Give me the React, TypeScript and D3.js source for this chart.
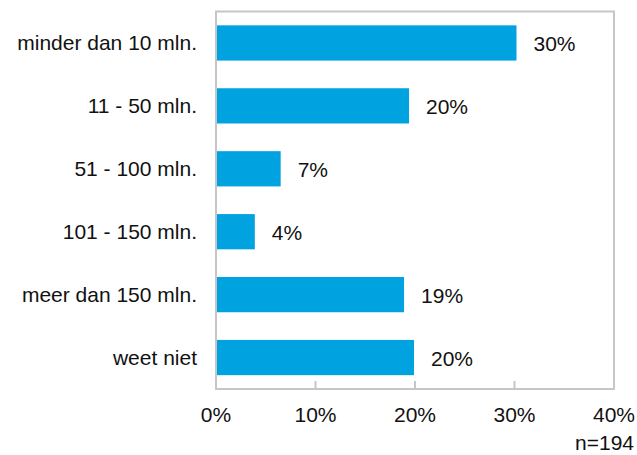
import React from "react";
import * as d3 from "d3";

const categories = [
  "minder dan 10 mln.",
  "11 - 50 mln.",
  "51 - 100 mln.",
  "101 - 150 mln.",
  "meer dan 150 mln.",
  "weet niet",
];
const values = [0.302, 0.194, 0.065, 0.039, 0.189, 0.199];
const valueLabels = ["30%", "20%", "7%", "4%", "19%", "20%"];
const xTicks = [0, 0.1, 0.2, 0.3, 0.4];
const note = "n=194";

const W = 637;
const H = 455;
const left = 216;
const right = 614;
const top = 11.5;
const bottom = 389;
const font = "'Liberation Sans', Arial, sans-serif";
const fs = 21;

export default function App() {
  const x = d3.scaleLinear().domain([0, 0.4]).range([left, right]);
  const y = d3
    .scaleBand<string>()
    .domain(categories)
    .range([top, bottom])
    .paddingInner(0.44)
    .paddingOuter(0.22);

  return (
    <svg
      width={W}
      height={H}
      style={{ position: "absolute", left: 0, top: 0, background: "#fff" }}
      fontFamily={font}
    >
      {categories.map((c, i) => (
        <rect
          key={c}
          x={x(0)}
          y={y(c)!}
          width={x(values[i]) - x(0)}
          height={y.bandwidth()}
          fill="#00A2DF"
        />
      ))}
      <rect
        x={left}
        y={top}
        width={right - left}
        height={bottom - top}
        fill="none"
        stroke="#c6c6c6"
        strokeWidth={2}
      />
      {xTicks.slice(1, -1).map((t) => (
        <line
          key={t}
          x1={x(t)}
          x2={x(t)}
          y1={bottom}
          y2={bottom - 8}
          stroke="#c6c6c6"
          strokeWidth={2}
        />
      ))}
      {categories.map((c, i) => (
        <text
          key={c}
          x={197}
          y={y(c)! + y.bandwidth() / 2 + 7.5}
          textAnchor="end"
          fontSize={fs}
          fill="#111"
        >
          {c}
        </text>
      ))}
      {categories.map((c, i) => (
        <text
          key={c}
          x={x(values[i]) + 17}
          y={y(c)! + y.bandwidth() / 2 + 8}
          fontSize={fs}
          fill="#111"
        >
          {valueLabels[i]}
        </text>
      ))}
      {xTicks.map((t) => (
        <text
          key={t}
          x={x(t)}
          y={422}
          textAnchor="middle"
          fontSize={fs}
          fill="#111"
        >
          {d3.format(".0%")(t)}
        </text>
      ))}
      <text x={634} y={450} textAnchor="end" fontSize={fs} fill="#111">
        {note}
      </text>
    </svg>
  );
}
